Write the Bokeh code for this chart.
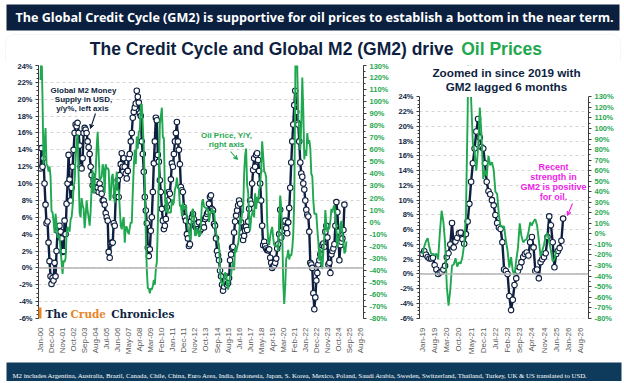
from bokeh.plotting import figure
from bokeh.layouts import column, row
from bokeh.models import (Range1d, LinearAxis, SingleIntervalTicker, FixedTicker,
                          PrintfTickFormatter, Label, Arrow, VeeHead, BoxAnnotation, Span)
from bokeh.embed import file_html
from bokeh.resources import INLINE
import math

MONTHS = ["Jan", "Feb", "Mar", "Apr", "May", "Jun", "Jul", "Aug", "Sep", "Oct", "Nov", "Dec"]


def month_index(label):
    mon, yy = label.split("-")
    return int(yy) * 12 + MONTHS.index(mon)


# ------------------------------------------------------------------ data
gm2_first_month = "Jan-00"
gm2_yoy = [
    11.8, 14.2, 12.0, 13.0, 10.0, 7.5, 5.3, 5.5, 3.0, 0.8, -1.0, -1.9,      # 2000
    -1.2, -1.5, 0.6, -1.0, 2.0, 4.4, 4.8, 5.0, 4.3, 3.5, 1.9, 2.0,         # 2001
    5.6, 4.0, 7.6, 10.0, 13.4, 10.5, 8.0, 9.5, 12.0, 14.0, 16.0, 17.0,     # 2002
    16.8, 17.2, 16.0, 14.5, 12.0, 11.8, 13.0, 16.0, 16.6, 16.4, 16.0, 15.0,  # 2003
    14.3, 13.5, 12.0, 11.0, 9.8, 10.4, 9.2, 9.8, 10.2, 9.5, 9.0, 10.0,     # 2004
    9.4, 8.8, 8.0, 8.0, 7.5, 6.5, 6.0, 5.6, 1.9, 1.2, 2.9, 3.0,            # 2005
    3.0, 5.3, 5.0, 8.5, 9.0, 10.4, 8.4, 11.0, 12.3, 13.6, 12.0, 13.0,      # 2006
    12.0, 11.2, 10.6, 11.5, 13.0, 13.5, 15.0, 16.0, 17.8, 18.5, 19.0, 19.5,  # 2007
    21.0, 20.3, 19.6, 18.3, 18.0, 15.0, 13.5, 11.4, 8.4, 6.8, 5.3, 2.4,    # 2008
    1.4, 2.2, 4.4, 6.0, 9.0, 12.4, 15.0, 17.8, 17.5, 13.4, 12.6, 10.4,     # 2009
    9.0, 7.0, 5.6, 4.6, 5.0, 5.8, 7.2, 8.0, 9.0, 8.8, 10.5, 12.4,          # 2010
    12.0, 13.5, 15.0, 16.0, 17.3, 15.0, 14.0, 12.3, 9.6, 9.2, 9.0, 7.2,    # 2011
    6.0, 5.6, 4.0, 3.5, 2.6, 2.8, 5.5, 6.0, 6.4, 5.8, 5.0, 4.8,            # 2012
    5.2, 4.6, 5.4, 4.4, 4.6, 5.0, 5.2, 4.8, 5.8, 6.0, 6.4, 6.6,            # 2013
    7.6, 8.4, 8.6, 7.0, 6.8, 5.2, 5.0, 3.5, 2.0, 1.5, 0.9, -0.3,           # 2014
    -1.0, -2.0, -2.7, -2.2, -1.5, -1.0, -2.0, -1.8, -1.2, 0.9, 1.6, 2.4,   # 2015
    2.5, 4.2, 5.5, 6.2, 6.8, 7.4, 8.0, 7.6, 5.4, 4.2, 3.3, 3.8,            # 2016
    4.4, 4.9, 4.5, 5.5, 7.0, 8.0, 7.6, 10.0, 11.6, 13.0, 12.0, 13.4,       # 2017
    13.6, 12.8, 11.5, 10.0, 8.0, 5.0, 2.7, 3.1, 2.6, 2.3, 2.1, 2.1,        # 2018
    2.2, 1.2, 0.6, 0.0, 0.2, 0.3, 0.6, 1.1, 2.3, 2.8, 4.0, 6.9,            # 2019
    3.6, 4.4, 4.9, 5.5, 5.6, 4.7, 4.1, 5.4, 7.1, 9.5, 12.5, 15.0,          # 2020
    17.0, 19.3, 21.0, 18.5, 17.2, 17.0, 15.0, 12.5, 11.2, 10.8, 10.0, 9.3,  # 2021
    8.0, 6.9, 6.3, 6.1, 4.3, 0.6, 0.4, 0.0, -3.0, -4.9, -3.5, -1.5,        # 2022
    -0.6, 0.4, 0.9, 1.6, 2.3, 2.7, 2.9, 2.5, 4.3, 5.0, 3.6, 0.4,           # 2023
    0.6, -0.6, 1.6, 2.0, 2.3, 2.8, 5.0, 7.8, 6.6, 4.3, 0.9, 2.7,           # 2024
    3.1, 3.5, 4.5, 7.5,                                                    # 2025
]

oil_first_month = "Jan-00"
oil_yoy = [
    118, 145, 103, 48, 62, 78, 48, 47, 42, 46, 38, 9,          # 2000
    8, 1, -9, 7, -1, -13, -11, -12, -23, -33, -43, -32,        # 2001
    -33, -30, -10, -4, -6, -8, 2, 4, 13, 30, 34, 52,           # 2002
    67, 73, 38, 8, 4, 20, 14, 11, -5, 5, 18, 9,                # 2003
    4, -3, 9, 30, 43, 24, 32, 42, 62, 75, 56, 35,              # 2004
    36, 38, 48, 44, 24, 48, 44, 45, 43, 18, 20, 37,            # 2005
    40, 28, 16, 31, 42, 26, 27, 12, -3, -6, 1, 4,              # 2006
    -17, -4, -4, -8, -10, -5, 0, -1, 25, 46, 60, 48,           # 2007
    71, 61, 75, 76, 97, 98, 80, 61, 30, -11, -40, -55,         # 2008
    -55, -59, -55, -56, -53, -48, -52, -39, -33, -1, 36, 81,   # 2009
    88, 95, 70, 70, 25, 8, 19, 8, 8, 8, 8, 19,                 # 2010
    14, 17, 27, 30, 37, 28, 28, 13, 14, 5, 16, 11,             # 2011
    12, 14, 3, -6, -7, -15, -10, 9, 11, 4, -11, -11,           # 2012
    -5, -7, -12, -11, 0, 16, 19, 13, 12, 12, 9, 11,            # 2013
    0, 6, 9, 11, 8, 10, -1, -9, -12, -16, -19, -39,            # 2014
    -50, -50, -53, -47, -42, -43, -51, -56, -51, -45, -44, -37,  # 2015
    -33, -40, -21, -25, -21, -18, -12, 4, -1, 8, 8, 40,        # 2016
    55, 61, 31, 25, 4, -7, 4, 7, 10, 4, 24, 11,                # 2017
    21, 16, 27, 30, 44, 67, 55, 42, 41, 37, 0, -15,            # 2018
    -19, -12, -7, -4, -13, -19, -19, -20, -19, -24, 1, 22,     # 2019
    12, -8, -50, -68, -53, -30, -29, -23, -31, -27, -28, -22,  # 2020
    -10, 17, 113, 274, 128, 86, 78, 60, 81, 120, 93, 52,       # 2021
    60, 55, 74, 65, 68, 61, 40, 38, 18, 7, 7, 7,               # 2022
    -6, -16, -32, -22, -35, -39, -25, -13, 10, -2, -8, -6,     # 2023
    -5, 1, 11, 8, 12, 14, 8, -6, -21, -16, -10, -2,            # 2024
    1, -8, -16, -26, -24, -16,                                 # 2025
]

gm2_lag_months = 6
zoom_first_month = "Jan-19"

main_x_labels = ["Jan-00", "Dec-00", "Nov-01", "Oct-02", "Sep-03", "Aug-04", "Jul-05", "Jun-06",
                 "May-07", "Apr-08", "Mar-09", "Feb-10", "Jan-11", "Dec-11", "Nov-12", "Oct-13",
                 "Sep-14", "Aug-15", "Jul-16", "Jun-17", "May-18", "Apr-19", "Mar-20", "Feb-21",
                 "Jan-22", "Dec-22", "Nov-23", "Oct-24", "Sep-25", "Aug-26"]
zoom_x_labels = ["Jan-19", "Aug-19", "Mar-20", "Oct-20", "May-21", "Dec-21", "Jul-22", "Feb-23",
                 "Sep-23", "Apr-24", "Nov-24", "Jun-25", "Jan-26", "Aug-26"]

left_axis_range = (-6, 24)
right_axis_range = (-80, 130)

# ------------------------------------------------------------------ styles / layout
NAVY = "#0E1F3F"
GREEN = "#1FA84F"
MAGENTA = "#EE1EE6"
ORANGE = "#E8862A"
BANNER_BG = "#0B1F3E"
FOOTER_BG = "#0E3B5B"
AXIS_COL = "#3A3A3A"
GRID_COL = "#D4D4D4"
XLAB_COL = "#5A5A5A"
PANEL_COL = "#E0E0E0"
SANS = "Liberation Sans"

W = 622
HEAD_H, ROW_H, FOOT_H = 61, 300, 20
ROW_Y = HEAD_H                      # picture row where the chart row starts
FRAME_TOP, FRAME_BOTTOM = 65, 318   # picture rows of the plot frames
MW = 393                            # width of the main-chart figure

gm2_x = [month_index(gm2_first_month) + i for i in range(len(gm2_yoy))]
oil_x = [month_index(oil_first_month) + i for i in range(len(oil_yoy))]


def style_axes(p, xlabels, oil_range):
    p.outline_line_color = None
    p.background_fill_color = "white"
    p.border_fill_color = "white"
    p.xgrid.visible = False
    p.ygrid.ticker = SingleIntervalTicker(interval=2)
    p.ygrid.grid_line_color = GRID_COL
    p.ygrid.grid_line_dash = "3 3"
    p.ygrid.grid_line_width = 1
    p.ygrid.bounds = left_axis_range
    ax = p.xaxis[0]
    ticks = [month_index(l) for l in xlabels]
    ax.ticker = FixedTicker(ticks=ticks)
    ax.major_label_overrides = {t: l for t, l in zip(ticks, xlabels)}
    ax.major_label_orientation = math.pi / 2
    ax.axis_line_color = None
    ax.major_tick_line_color = None
    ax.minor_tick_line_color = None
    ax.major_label_standoff = 3
    ax.major_label_text_font = SANS
    ax.major_label_text_font_size = "8px"
    ax.major_label_text_color = XLAB_COL
    ly = p.yaxis[0]
    ly.bounds = left_axis_range
    ly.ticker = SingleIntervalTicker(interval=2, num_minor_ticks=4)
    ly.formatter = PrintfTickFormatter(format="%d%%")
    ly.axis_line_color = AXIS_COL
    ly.major_tick_line_color = AXIS_COL
    ly.minor_tick_line_color = AXIS_COL
    ly.major_tick_out = 3
    ly.major_tick_in = 0
    ly.minor_tick_out = 2
    ly.minor_tick_in = 0
    ly.major_label_standoff = 3
    ly.major_label_text_font = SANS
    ly.major_label_text_font_size = "7.5px"
    ly.major_label_text_font_style = "bold"
    ly.major_label_text_color = NAVY
    p.extra_y_ranges = {"oil": Range1d(*oil_range)}
    ry = LinearAxis(y_range_name="oil", bounds=right_axis_range,
                    ticker=SingleIntervalTicker(interval=10, num_minor_ticks=2),
                    formatter=PrintfTickFormatter(format="%d%%"))
    ry.axis_line_color = AXIS_COL
    ry.major_tick_line_color = AXIS_COL
    ry.minor_tick_line_color = AXIS_COL
    ry.major_tick_out = 3
    ry.major_tick_in = 0
    ry.minor_tick_out = 2
    ry.minor_tick_in = 0
    ry.major_label_standoff = 3
    ry.major_label_text_font = SANS
    ry.major_label_text_font_size = "7.5px"
    ry.major_label_text_font_style = "bold"
    ry.major_label_text_color = GREEN
    p.add_layout(ry, "right")
    p.add_layout(Span(location=0, dimension="width", line_color="#B5B5B5", line_width=1.5))


def draw_series(p, gx, gy, ox, oy):
    p.line(gx, gy, line_color=NAVY, line_width=2.4)
    p.scatter(gx, gy, marker="circle", size=5.5, fill_color="white", line_color=NAVY, line_width=1.1)
    p.line(ox, oy, y_range_name="oil", line_color=GREEN, line_width=1.9)


def lab(p, x, y, text, size, color, style="bold", align="center", font=SANS, baseline="middle"):
    p.add_layout(Label(x=x, y=y, text=text, text_font=font, text_font_size=size,
                       text_font_style=style, text_color=color, text_align=align,
                       text_baseline=baseline))


def plain_fig(h, top):
    """A figure whose data units are picture pixels (x right, y down from picture top)."""
    f = figure(width=W, height=h, x_range=Range1d(0, W), y_range=Range1d(top + h, top),
               output_backend="svg", toolbar_location=None, x_axis_type=None, y_axis_type=None,
               min_border=0, outline_line_color=None)
    f.background_fill_color = "white"
    f.border_fill_color = "white"
    f.grid.visible = False
    return f


# ------------------------------------------------------------------ header (banner + title)
head = plain_fig(HEAD_H, 0)
head.add_layout(BoxAnnotation(left=6, right=619, top=4, bottom=30, fill_color=BANNER_BG,
                              fill_alpha=1, line_color=None))
lab(head, 314, 17, "The Global Credit Cycle (GM2) is supportive for oil prices to establish a bottom in the near term.",
    "12.6px", "white", font="Open Sans")
head.add_layout(BoxAnnotation(left=5, right=620, top=34, bottom=120, fill_color=None,
                              line_color=PANEL_COL, line_width=1, border_radius=9))
lab(head, 453, 48.5, "The Credit Cycle and Global M2 (GM2) drive", "17.5px", NAVY, align="right")
lab(head, 460.7, 48.5, "Oil Prices", "17.5px", GREEN, align="left")

# ------------------------------------------------------------------ main chart
mx0 = month_index(main_x_labels[0]) - 2.0 / 1.003
mx1 = mx0 + 325.0 / 1.003
main = figure(width=MW, height=ROW_H, x_range=Range1d(mx0, mx1), y_range=Range1d(*left_axis_range),
              output_backend="svg", toolbar_location=None,
              min_border_left=38, min_border_right=MW - 363, min_border_top=FRAME_TOP - ROW_Y,
              min_border_bottom=ROW_Y + ROW_H - FRAME_BOTTOM)
style_axes(main, main_x_labels, right_axis_range)
draw_series(main, gm2_x, gm2_yoy, oil_x, oil_yoy)


def mpx(x):  # picture x -> main data x
    return mx0 + (x - 38) * (mx1 - mx0) / 325.0


def mpy(y):  # picture y -> main data y (left axis)
    return 24 - (y - FRAME_TOP) * 30.0 / (FRAME_BOTTOM - FRAME_TOP)


main.add_layout(BoxAnnotation(left=mpx(5), right=mpx(700), top=mpy(0), bottom=mpy(359),
                              fill_color=None, line_color=PANEL_COL, line_width=1, border_radius=9))
for t, yy in zip(["Global M2 Money", "Supply in USD,", "y/y%,  left axis"], [90, 99.3, 108.3]):
    lab(main, mpx(83), mpy(yy), t, "8px", NAVY)
main.add_layout(Arrow(end=VeeHead(size=4, line_color=NAVY, fill_color=NAVY, line_width=1),
                      x_start=mpx(95), y_start=mpy(113), x_end=mpx(90), y_end=mpy(128),
                      line_color=NAVY, line_width=1.1))
for t, yy in zip(["Oil Price, Y/Y,", "right axis"], [135, 144]):
    lab(main, mpx(226), mpy(yy), t, "8px", GREEN)
main.add_layout(Arrow(end=VeeHead(size=4, line_color=GREEN, fill_color=GREEN, line_width=1),
                      x_start=mpx(230), y_start=mpy(151), x_end=mpx(237), y_end=mpy(159),
                      line_color=GREEN, line_width=1.1))
# logo
main.add_layout(BoxAnnotation(left=mpx(35), right=mpx(41), top=mpy(307), bottom=mpy(319),
                              fill_color=ORANGE, fill_alpha=1, line_color=None))
lab(main, mpx(45), mpy(313.5), "The", "10.5px", NAVY, align="left", font="DejaVu Serif")
lab(main, mpx(70), mpy(313.5), "Crude", "10.5px", ORANGE, align="left", font="DejaVu Serif")
lab(main, mpx(110.7), mpy(313.5), "Chronicles", "10.5px", NAVY, align="left", font="DejaVu Serif")

# ------------------------------------------------------------------ zoom chart
ZW = W - MW
Z_LEFT, Z_RIGHT = 419, 588           # picture columns of the zoom frame
Z_PX_PER_MONTH = 1.736
Z_Y24, Z_YM6 = 96.4, 317.7            # picture rows of 24% and -6%
z_px_per_pct = (Z_YM6 - Z_Y24) / 30.0
zx0 = month_index(zoom_first_month) - (422 - Z_LEFT) / Z_PX_PER_MONTH
zx1 = zx0 + (Z_RIGHT - Z_LEFT) / Z_PX_PER_MONTH
zy1 = 24 + (Z_Y24 - FRAME_TOP) / z_px_per_pct
zy0 = -6 - (FRAME_BOTTOM - Z_YM6) / z_px_per_pct
oil_per_pct = (right_axis_range[1] - right_axis_range[0]) / (left_axis_range[1] - left_axis_range[0])
z_oil = (right_axis_range[0] + (zy0 + 6) * oil_per_pct, right_axis_range[1] + (zy1 - 24) * oil_per_pct)
zoom = figure(width=ZW, height=ROW_H, x_range=Range1d(zx0, zx1), y_range=Range1d(zy0, zy1),
              output_backend="svg", toolbar_location=None,
              min_border_left=Z_LEFT - MW, min_border_right=MW + ZW - Z_RIGHT,
              min_border_top=FRAME_TOP - ROW_Y, min_border_bottom=ROW_Y + ROW_H - FRAME_BOTTOM)
style_axes(zoom, zoom_x_labels, z_oil)
z_start = month_index(zoom_first_month)
zg = [(x + gm2_lag_months, v) for x, v in zip(gm2_x, gm2_yoy) if x + gm2_lag_months >= z_start]
zo = [(x, v) for x, v in zip(oil_x, oil_yoy) if x >= z_start]
draw_series(zoom, [a for a, _ in zg], [b for _, b in zg], [a for a, _ in zo], [b for _, b in zo])


def zpx(x):  # picture x -> zoom data x
    return zx0 + (x - Z_LEFT) / Z_PX_PER_MONTH


def zpy(y):  # picture y -> zoom data y
    return 24 - (y - Z_Y24) / z_px_per_pct


# the zoomed chart is clipped at the 24% level
zoom.add_layout(BoxAnnotation(left=zx0, right=zx1, bottom=24, top=zy1 + 1, fill_color="white",
                              fill_alpha=1, line_color=None))
zoom.add_layout(BoxAnnotation(left=zpx(-100), right=zpx(620), top=zpy(0), bottom=zpy(359),
                              fill_color=None, line_color=PANEL_COL, line_width=1, border_radius=9))
zoom.add_layout(BoxAnnotation(left=zpx(397), right=zpx(616), top=zpy(61), bottom=zpy(356),
                              fill_color=None, line_color="#D0D0D0", line_width=1, border_radius=8))
lab(zoom, zpx(506), zpy(72.3), "Zoomed in since 2019 with", "11.7px", NAVY)
lab(zoom, zpx(506), zpy(85.8), "GM2 lagged 6 months", "11.7px", NAVY)
for t, yy in zip(["Recent", "strength in", "GM2 is positive", "for oil."], [166, 176.3, 186.6, 196.8]):
    lab(zoom, zpx(553), zpy(yy), t, "9px", MAGENTA)
zoom.add_layout(Arrow(end=VeeHead(size=4, line_color=MAGENTA, fill_color=MAGENTA, line_width=1),
                      x_start=zpx(572), y_start=zpy(203), x_end=zpx(567), y_end=zpy(215),
                      line_color=MAGENTA, line_width=1.1))

# ------------------------------------------------------------------ footer
footer = plain_fig(FOOT_H, ROW_Y + ROW_H)
footer.add_layout(BoxAnnotation(left=6, right=621, top=362, bottom=400, fill_color=FOOTER_BG,
                                fill_alpha=1, line_color=None))
lab(footer, 12, 374.5, "M2 includes Argentina, Australia, Brazil, Canada, Chile, China, Euro Area, India,  Indonesia, Japan, S. Korea, Mexico, Poland, Saudi Arabia, Sweden, Switzerland, Thailand,  Turkey, UK & US translated to USD.",
    "6.8px", "white", style="normal", align="left", font="Liberation Sans Narrow")

layout = column(head, row(main, zoom), footer)
open("out.html", "w").write(file_html(layout, INLINE, "Global M2 and oil"))
